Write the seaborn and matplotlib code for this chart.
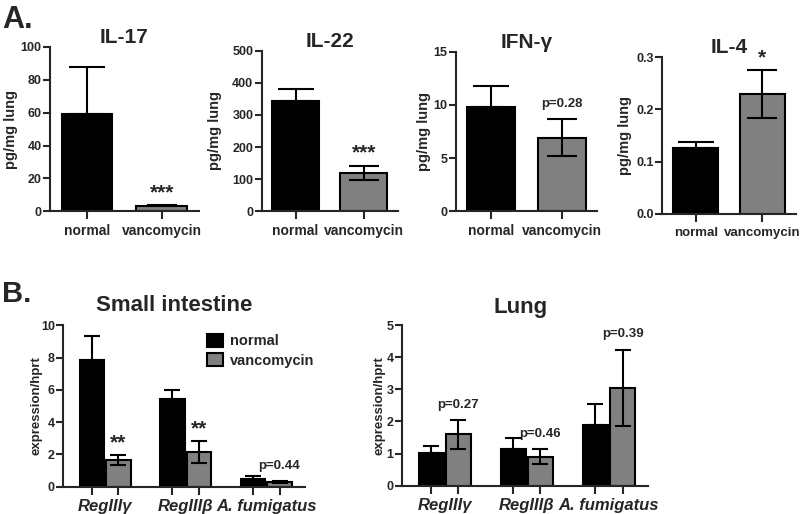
import matplotlib
matplotlib.use('Agg')
import matplotlib.pyplot as plt
import seaborn as sns
import pandas as pd

# Panel A: cytokines in lung (pg/mg lung)
groups = ['normal', 'vancomycin']
cytokines = ['IL-17', 'IL-22', 'IFN-γ', 'IL-4']
cyto_means = [[59.2, 3.4], [344, 120], [9.83, 6.89], [0.126, 0.229]]
cyto_errs = [[28.6, 0.4], [38, 22], [1.92, 1.74], [0.011, 0.046]]
cyto_ylim = [100, 500, 15, 0.3]
cyto_step = [20, 100, 5, 0.1]
cyto_marks = ['***', '***', 'p=0.28', '*']

# Panel B: expression/hprt
genes = ['RegIIIγ', 'RegIIIβ', 'A. fumigatus']
si_normal = [7.85, 5.42, 0.50]
si_normal_err = [1.49, 0.58, 0.17]
si_vanc = [1.65, 2.13, 0.30]
si_vanc_err = [0.30, 0.68, 0.06]
si_marks = ['**', '**', 'p=0.44']
lung_normal = [1.02, 1.13, 1.88]
lung_normal_err = [0.23, 0.35, 0.66]
lung_vanc = [1.60, 0.90, 3.04]
lung_vanc_err = [0.45, 0.23, 1.19]
lung_marks = ['p=0.27', 'p=0.46', 'p=0.39']

BLACK = '#000000'
GREY = '#808080'

sns.set_style('ticks')
plt.rcParams['font.family'] = ['Liberation Sans', 'DejaVu Sans']
plt.rcParams['font.weight'] = 'bold'
plt.rcParams['axes.linewidth'] = 1.5

fig = plt.figure(figsize=(8, 5.14), dpi=100)

# axes rectangles and where the y label sits (axes fraction)
a_rects = [
    [0.0625, 0.589, 0.186, 0.3197],
    [0.327, 0.589, 0.170, 0.3124],
    [0.5696, 0.589, 0.1766, 0.3104],
    [0.828, 0.5837, 0.1666, 0.3054],
]
a_ylabel_x = [-0.218, -0.292, -0.178, -0.230]
a_xlabelsize = [10, 10, 10, 9.5]


def style_axis(ax):
    sns.despine(ax=ax)
    ax.tick_params(axis='both', width=1.5, length=5)
    ax.tick_params(axis='y', pad=1, labelsize=9)
    for lab in ax.get_yticklabels() + ax.get_xticklabels():
        lab.set_fontweight('bold')


def mark_text(txt):
    # asterisks sit high in the glyph box
    if txt.startswith('*'):
        return dict(fontsize=15, off=9)
    return dict(fontsize=9.5, off=11)


for i, name in enumerate(cytokines):
    ax = fig.add_axes(a_rects[i])
    df = pd.DataFrame({'group': groups, 'value': cyto_means[i]})
    sns.barplot(data=df, x='group', y='value', hue='group',
                palette=[BLACK, GREY], saturation=1, width=0.68,
                edgecolor='black', linewidth=1.5, legend=False, ax=ax)
    xs = [p.get_x() + p.get_width() / 2 for p in ax.patches]
    m, e = cyto_means[i], cyto_errs[i]
    ax.errorbar([xs[0]], [m[0]], yerr=[[0], [e[0]]], fmt='none', ecolor='black',
                elinewidth=1.5, capsize=13, capthick=1.5, zorder=5)
    ax.errorbar([xs[1]], [m[1]], yerr=[[e[1]], [e[1]]], fmt='none', ecolor='black',
                elinewidth=1.5, capsize=11, capthick=1.5, zorder=5)
    mk = mark_text(cyto_marks[i])
    ax.annotate(cyto_marks[i], xy=(xs[1], m[1] + e[1]), xytext=(0, mk['off']),
                textcoords='offset points', ha='center', va='center',
                fontsize=mk['fontsize'], fontweight='bold')
    ax.set_xlim(-0.5, 1.5)
    ax.set_ylim(0, cyto_ylim[i])
    n = int(round(cyto_ylim[i] / cyto_step[i]))
    ax.set_yticks([k * cyto_step[i] for k in range(n + 1)])
    if cyto_ylim[i] < 1:
        ax.set_yticklabels([f'{k * cyto_step[i]:.1f}' for k in range(n + 1)])
    ax.set_xlabel('')
    ax.set_ylabel('pg/mg lung', fontsize=10.5, fontweight='bold')
    ax.yaxis.set_label_coords(a_ylabel_x[i], 0.5)
    ax.set_title(name, fontsize=15, fontweight='bold', pad=3)
    style_axis(ax)
    ax.tick_params(axis='x', labelsize=a_xlabelsize[i], length=6)


def draw_expression(ax, normal, normal_err, vanc, vanc_err, marks, ymax, legend, ylabel_x):
    df = pd.DataFrame({
        'gene': genes * 2,
        'group': [groups[0]] * len(genes) + [groups[1]] * len(genes),
        'value': normal + vanc,
    })
    sns.barplot(data=df, x='gene', y='value', hue='group',
                palette=[BLACK, GREY], saturation=1, width=0.66, gap=0.08,
                edgecolor='black', linewidth=1.5, legend=legend, ax=ax)
    xn = [p.get_x() + p.get_width() / 2 for p in ax.containers[0]]
    xv = [p.get_x() + p.get_width() / 2 for p in ax.containers[1]]
    ax.errorbar(xn, normal, yerr=[[0] * len(normal), normal_err], fmt='none',
                ecolor='black', elinewidth=1.5, capsize=5.5, capthick=1.5, zorder=5)
    ax.errorbar(xv, vanc, yerr=[vanc_err, vanc_err], fmt='none',
                ecolor='black', elinewidth=1.5, capsize=5.5, capthick=1.5, zorder=5)
    for x, v, e, txt in zip(xv, vanc, vanc_err, marks):
        mk = mark_text(txt)
        ax.annotate(txt, xy=(x, v + e), xytext=(0, mk['off']),
                    textcoords='offset points', ha='center', va='center',
                    fontsize=mk['fontsize'], fontweight='bold')
    ax.set_xlim(-0.52, 2.48)
    ax.set_ylim(0, ymax)
    ax.set_xlabel('')
    ax.set_ylabel('expression/hprt', fontsize=9.5, fontweight='bold')
    ax.yaxis.set_label_coords(ylabel_x, 0.5)
    style_axis(ax)
    ax.set_xticks(xn + xv, minor=True)
    ax.tick_params(axis='x', which='minor', length=6, width=1.5)
    ax.tick_params(axis='x', which='major', length=0, pad=9)
    for lab in ax.get_xticklabels():
        lab.set_fontstyle('italic')
        lab.set_fontweight('bold')
        lab.set_fontsize(12)
    if legend:
        handles, labels = ax.get_legend_handles_labels()
        ax.legend(handles, labels, loc='upper left', bbox_to_anchor=(0.54, 1.03),
                  frameon=False, handlelength=1.1, handleheight=1.0,
                  handletextpad=0.5, labelspacing=0.35,
                  prop={'size': 10.5, 'weight': 'bold'})
    return ax


ax_si = fig.add_axes([0.0791, 0.0531, 0.302, 0.314])
draw_expression(ax_si, si_normal, si_normal_err, si_vanc, si_vanc_err,
                si_marks, 10, True, -0.088)
ax_si.set_yticks([0, 2, 4, 6, 8, 10])
ax_si.set_title('Small intestine', fontsize=16, fontweight='bold', pad=10, x=0.46)

ax_lung = fig.add_axes([0.5025, 0.055, 0.308, 0.3127])
draw_expression(ax_lung, lung_normal, lung_normal_err, lung_vanc, lung_vanc_err,
                lung_marks, 5, False, -0.068)
ax_lung.set_yticks([0, 1, 2, 3, 4, 5])
ax_lung.set_title('Lung', fontsize=16, fontweight='bold', pad=9, x=0.48)

for ax in [ax_si, ax_lung]:
    for lab in ax.get_yticklabels():
        lab.set_fontweight('bold')

fig.text(0.003, 1 - 28 / 514, 'A.', fontsize=22, fontweight='bold', va='baseline')
fig.text(0.003, 1 - 302 / 514, 'B.', fontsize=21, fontweight='bold', va='baseline')

fig.savefig('out.png', dpi=100)
